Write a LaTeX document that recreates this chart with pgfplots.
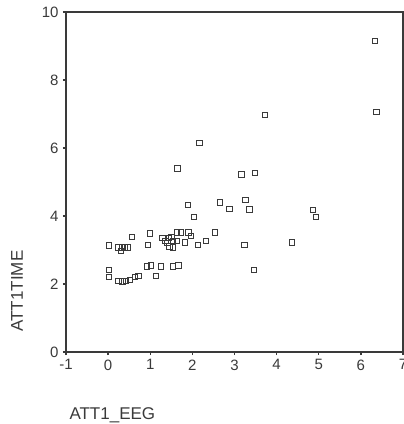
\documentclass[border=0pt]{standalone}
\usepackage{fontspec}
\setmainfont{Liberation Sans}
\usepackage{pgfplots}
\pgfplotsset{compat=1.18}
\usetikzlibrary{calc}
\definecolor{ink}{HTML}{3A3A3A}
\begin{document}
\begin{tikzpicture}
\begin{axis}[name=ax,
  scale only axis, width=337pt, height=340pt,
  xmin=-1, xmax=7, ymin=0, ymax=10,
  xtick={-1,0,...,7}, ytick={0,2,...,10},
  axis line style={ink, line width=1.2pt},
  tick align=outside, major tick length=3pt,
  tick style={ink, line width=1.4pt},
  xtick pos=bottom, ytick pos=left,
  /pgf/number format/assume math mode=true,
  tick label style={font=\fontsize{15}{15}\selectfont, text=ink},
  xticklabel style={yshift=-1pt},
  yticklabel style={xshift=-1pt},
  xlabel={ATT1\_EEG}, ylabel={ATT1TIME},
  label style={font=\fontsize{17}{17}\selectfont, text=ink},
  xlabel style={at={(axis description cs:0,0)}, anchor=base west, yshift=-67pt},
  ylabel style={at={(axis description cs:0,0)}, anchor=base west, xshift=17pt, yshift=43pt},
  clip=false,
]
\addplot[only marks, mark=square, mark size=2.7pt, mark options={ink, line width=0.95pt}] coordinates {
(6.33,9.15) (6.37,7.06) (3.72,6.97) (2.17,6.14) (1.65,5.40) (3.48,5.27) (3.17,5.22)
(3.26,4.47) (2.66,4.40) (1.90,4.32) (2.88,4.20) (3.36,4.19) (4.87,4.18) (4.93,3.98)
(2.04,3.97) (2.53,3.51) (4.36,3.22) (2.33,3.27) (3.24,3.14) (3.46,2.41)
(0.02,3.13) (0.25,3.08) (0.33,3.08) (0.40,3.08) (0.47,3.08) (0.30,2.98) (0.56,3.38)
(0.94,3.15) (1.00,3.49) (1.29,3.36) (1.36,3.27) (1.41,3.20) (1.46,3.10) (1.54,3.08)
(1.50,3.39) (1.54,3.27) (1.64,3.52) (1.73,3.52) (1.64,3.27) (1.83,3.22) (1.91,3.52)
(1.97,3.42) (2.13,3.15) (1.45,3.35)
(0.02,2.42) (0.02,2.21) (0.25,2.09) (0.34,2.07) (0.43,2.09) (0.52,2.12) (0.64,2.20)
(0.72,2.24) (0.92,2.51) (1.02,2.54) (1.14,2.24) (1.26,2.51) (1.54,2.51) (1.67,2.54)
};
\end{axis}
\pgfresetboundingbox
\path[use as bounding box] ($(ax.south west)+(-66pt,-72pt)$) rectangle ($(ax.north east)+(1pt,12pt)$);
\end{tikzpicture}
\end{document}
